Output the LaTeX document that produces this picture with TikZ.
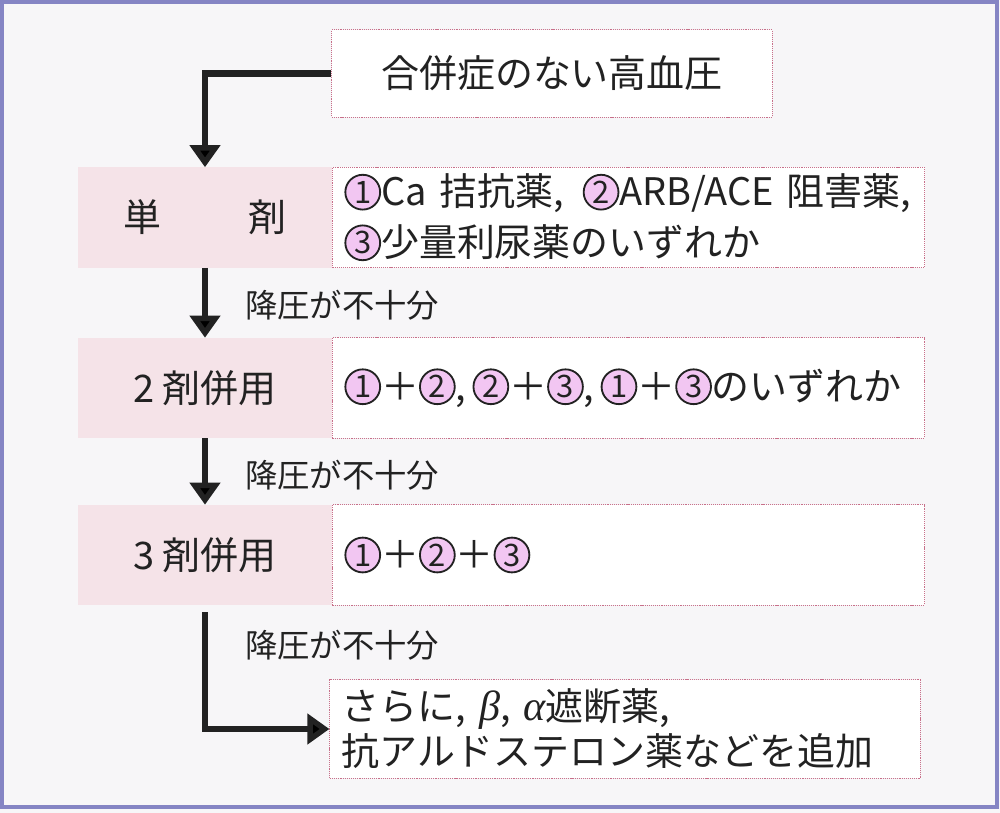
\documentclass[tikz,border=0pt]{standalone}
\usepackage{fontspec}
\setmainfont{Noto Sans CJK JP}
\newfontfamily\grkfont{Liberation Serif}
\usetikzlibrary{arrows.meta}

\definecolor{paper}{HTML}{F7F6F8}
\definecolor{framelav}{HTML}{8585C4}
\definecolor{bandpink}{HTML}{F5E3E8}
\definecolor{dotred}{HTML}{C8708A}
\definecolor{marupink}{HTML}{F2C6F2}
\definecolor{inkgray}{HTML}{222222}

\tikzset{
    maru/.style={circle, draw=inkgray, line width=1.3pt, fill=marupink, inner sep=0pt,
        minimum size=0.87cm, font=\fontsize{22}{22}\selectfont}
}
\newcommand{\maru}[1]{\tikz[baseline={([yshift=-0.34cm]mk.center)}]\node (mk) [maru] {#1};}
\newcommand{\grk}[1]{{\grkfont\itshape\fontsize{30}{30}\selectfont #1}}

\begin{document}
\begin{tikzpicture}[
    x=0.025cm, y=-0.025cm,
    band/.style={fill=bandpink, minimum width=6.35cm, minimum height=2.5cm, inner sep=0pt,
        text=inkgray, font=\fontsize{27}{30}\selectfont},
    dotbox/.style={draw=dotred, fill=white, line width=0.7pt, dash pattern=on 0.8pt off 0.7pt,
        inner xsep=0.3cm, text=inkgray, font=\fontsize{27}{34}\selectfont},
    note/.style={text=inkgray, font=\fontsize{23}{26}\selectfont, inner sep=0pt},
    arrow/.style={-{Triangle[width=0.74cm,length=0.55cm]}, line width=4.8pt, draw=inkgray}
]
\useasboundingbox (0,0) rectangle (1000,813);
\fill[paper] (0,0) rectangle (1000,813);
\draw[framelav, line width=2.4pt] (2,2) rectangle (997,807);

\node (start) [dotbox, minimum width=11cm, minimum height=2.175cm] at (552,73.5) {合併症のない高血圧};

\node (band1) [band] at (205,217.5) {単\hspace{2.3em}剤};
\node (box1) [dotbox, minimum height=2.5cm, text width=14.2cm, align=left] at (628.5,217.5)
    {\mbox{\maru{1}Ca 拮抗薬,\, \maru{2}ARB/ACE 阻害薬,}\\[2pt]\mbox{\maru{3}少量利尿薬のいずれか}};

\node (band2) [band] at (205,388) {2 剤併用};
\node (box2) [dotbox, minimum height=2.5cm, text width=14.2cm, align=left] at (628.5,388)
    {\mbox{\maru{1}＋\maru{2},\,\maru{2}＋\maru{3},\,\maru{1}＋\maru{3}のいずれか}};

\node (band3) [band] at (205,555) {3 剤併用};
\node (box3) [dotbox, minimum height=2.5cm, text width=14.2cm, align=left] at (628.5,555)
    {\mbox{\maru{1}＋\maru{2}＋\maru{3}}};

\node (box4) [dotbox, minimum height=2.45cm, text width=14.15cm, align=left,
    font=\fontsize{27}{32}\selectfont] at (625,729)
    {\mbox{さらに, \grk{β}, \grk{α}遮断薬,}\\\mbox{抗アルドステロン薬などを追加}};

\node (gap1) [note, anchor=west] at (245,305) {降圧が不十分};
\node (gap2) [note, anchor=west] at (245,475) {降圧が不十分};
\node (gap3) [note, anchor=west] at (245,645) {降圧が不十分};

\draw[arrow] (start.west) -| (band1.north);
\draw[arrow] (band1.south) -- (band2.north);
\draw[arrow] (band2.south) -- (band3.north);
\draw[arrow] ([yshift=-5]band3.south) |- (box4.west);

\end{tikzpicture}
\end{document}
